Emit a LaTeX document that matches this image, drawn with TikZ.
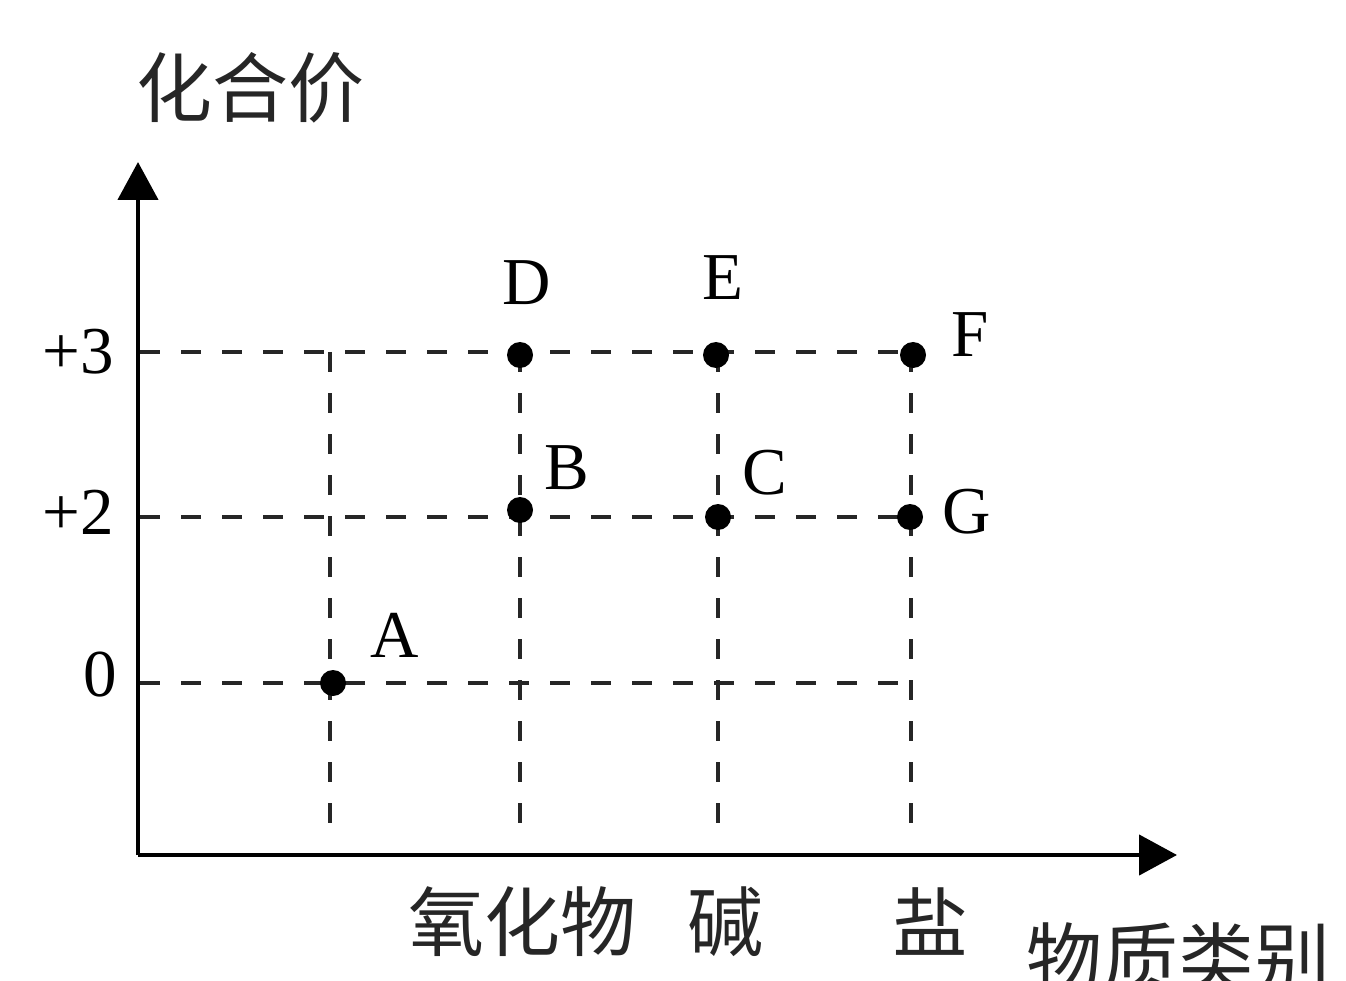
\documentclass[tikz,border=0pt]{standalone}
\usepackage{fontspec}
\setmainfont{Liberation Serif}
\newfontfamily\cjk{Noto Sans CJK SC}
\usetikzlibrary{arrows.meta}
\begin{document}
\begin{tikzpicture}[x=1pt,y=-1pt,
  axis/.style={line width=4.5pt,-{Triangle[length=38pt,width=40pt]}},
  guide/.style={line width=4.5pt,dash pattern=on 20pt off 21pt,black!85},
  pt/.style={circle,fill=black,inner sep=0pt,minimum size=26pt},
  lbl/.style={font=\fontsize{67}{67}\selectfont,inner sep=0pt},
  cj/.style={font=\cjk\fontsize{76}{76}\selectfont,inner sep=0pt,text=black!85}]
\useasboundingbox (0,0) rectangle (1346,981);
\clip (0,0) rectangle (1346,981);
% origin and axis ends
\coordinate (O) at (138,855);
\coordinate (Ytip) at (138,162);
\coordinate (Xtip) at (1177,855);
\draw[axis] (O) -- (Ytip);
\draw[axis] (O) -- (Xtip);
% guide coordinates
\coordinate (h3s) at (140,352); \coordinate (h3e) at (911,352);
\coordinate (h2s) at (140,517); \coordinate (h2e) at (911,517);
\coordinate (h0s) at (140,683); \coordinate (h0e) at (911,683);
\coordinate (v1s) at (330,352); \coordinate (v1e) at (330,840);
\coordinate (v2s) at (520,352); \coordinate (v2e) at (520,840);
\coordinate (v3s) at (718,352); \coordinate (v3e) at (718,840);
\coordinate (v4s) at (911,352); \coordinate (v4e) at (911,840);
\draw[guide] (h3s) -- (h3e);
\draw[guide] (h2s) -- (h2e);
\draw[guide] (h0s) -- (h0e);
\draw[guide] (v1s) -- (v1e);
\draw[guide] (v2s) -- (v2e);
\draw[guide] (v3s) -- (v3e);
\draw[guide] (v4s) -- (v4e);
% points
\node[pt] (pD) at (520,355) {};
\node[pt] (pE) at (716,355) {};
\node[pt] (pF) at (913,355) {};
\node[pt] (pB) at (520,510) {};
\node[pt] (pC) at (718,517) {};
\node[pt] (pG) at (910,517) {};
\node[pt] (pA) at (333,683) {};
% point labels
\node[lbl] (lD) at (527,283) {D};
\node[lbl] (lE) at (723,278) {E};
\node[lbl] (lF) at (970,335) {F};
\node[lbl] (lB) at (567,468) {B};
\node[lbl] (lC) at (765,473) {C};
\node[lbl] (lG) at (967,512) {G};
\node[lbl] (lA) at (395,635) {A};
% tick labels
\node[lbl] (t3) at (78,352) {+3};
\node[lbl] (t2) at (78,512) {+2};
\node[lbl] (t0) at (100,675) {0};
% chinese labels
\node[cj] (ytitle) at (250,88) {化合价};
\node[cj] (c1) at (522,922) {氧化物};
\node[cj] (c2) at (725,922) {碱};
\node[cj] (c3) at (930,922) {盐};
\node[cj] (xtitle) at (1178,958) {物质类别};
\end{tikzpicture}
\end{document}
